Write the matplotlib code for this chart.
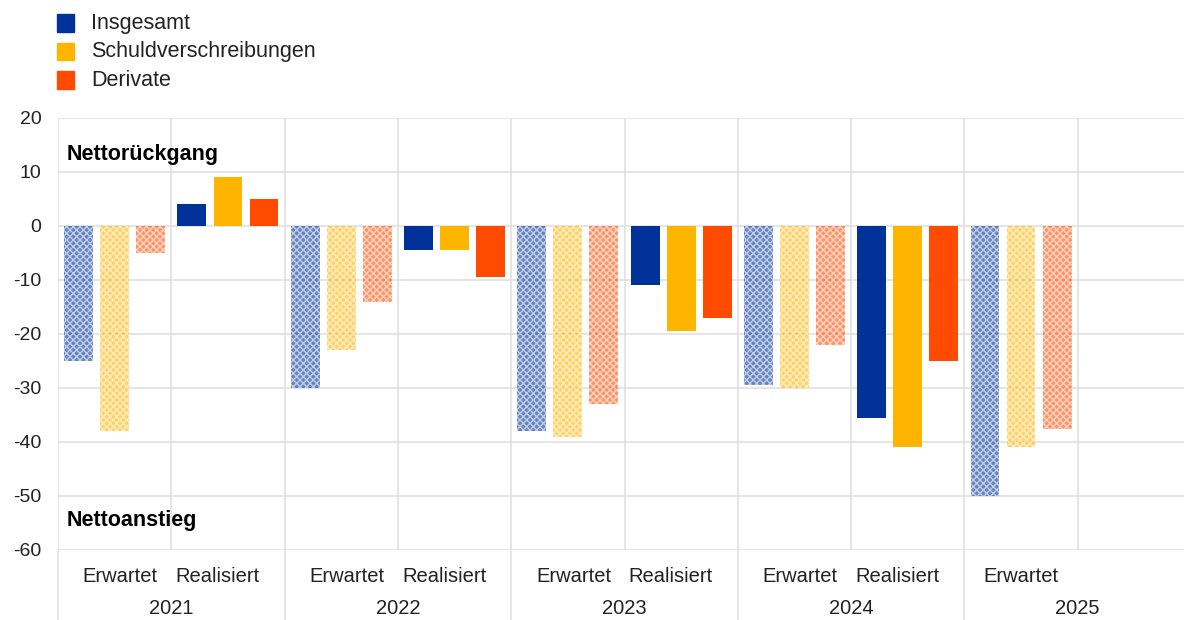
import matplotlib.pyplot as plt
import matplotlib.transforms as mtransforms
import numpy as np

plt.rcParams["font.family"] = ["Liberation Sans", "DejaVu Sans"]
plt.rcParams["axes.unicode_minus"] = False

# Categories: expected / realised per year
years = ["2021", "2022", "2023", "2024", "2025"]
slot_labels = ["Erwartet", "Realisiert"] * 4 + ["Erwartet"]
is_expected = [True, False] * 4 + [True]

series_names = ["Insgesamt", "Schuldverschreibungen", "Derivate"]
insgesamt = [-25, 4, -30, -4.5, -38, -11, -29.5, -35.5, -50]
schuldverschreibungen = [-38, 9, -23, -4.5, -39, -19.5, -30, -41, -41]
derivate = [-5, 5, -14, -9.5, -33, -17, -22, -25, -37.5]
series = [insgesamt, schuldverschreibungen, derivate]
colors = ["#003299", "#FFB400", "#FF4B00"]

W, H = 1184, 620
fig = plt.figure(figsize=(W / 100, H / 100), dpi=100)
ax = fig.add_axes([58 / W, (H - 550) / H, 1 - 58 / W, (550 - 118) / H])

n_slots = len(slot_labels)
x = np.arange(n_slots)
width = 0.255
offsets = [-0.318, 0.0, 0.318]

for vals, color, off in zip(series, colors, offsets):
    for xi, v, exp in zip(x, vals, is_expected):
        if exp:
            # expectations drawn as lighter, hatched bars
            ax.bar(xi + off, v, width, color=color, alpha=0.6,
                   edgecolor="white", hatch="xxxxx", linewidth=0, zorder=3)
        else:
            ax.bar(xi + off, v, width, color=color, linewidth=0, zorder=3)

ax.set_ylim(-60, 20)
ax.set_yticks(np.arange(-60, 21, 10))
ax.set_xlim(-0.5, -0.5 + (W - 58) / 113.3)
ax.set_xticks([])

grid_color = "#e0e0e0"
for yv in np.arange(-60, 21, 10):
    ax.axhline(yv, color=grid_color, lw=1.2, zorder=1)
for k in range(n_slots + 1):
    ax.axvline(k - 0.5, color=grid_color, lw=1.2, zorder=1)
for s in ax.spines.values():
    s.set_visible(False)
ax.tick_params(axis="y", length=0, labelsize=14, labelcolor="#222222", pad=12)

# Category and year labels below the plot
trans = mtransforms.blended_transform_factory(ax.transData, fig.transFigure)
label_shift = {"Erwartet": 0.05, "Realisiert": -0.09}
for xi, lab in zip(x, slot_labels):
    dx = label_shift[lab] if xi < n_slots - 1 else 0.0
    ax.text(xi + dx, (H - 577) / H, lab, transform=trans, ha="center",
            va="center", fontsize=14.5, color="#222222")
for i, yr in enumerate(years):
    ax.text(2 * i + 0.5, (H - 608) / H, yr, transform=trans, ha="center",
            va="center", fontsize=14.5, color="#222222")
    ax.plot([2 * i - 0.5, 2 * i - 0.5], [(H - 550) / H, 0], transform=trans,
            color=grid_color, lw=1.2, clip_on=False)

side = mtransforms.blended_transform_factory(ax.transAxes, ax.transData)
ax.text(0.008, 13.2, "Nettorückgang", fontsize=15.5, fontweight="bold",
        ha="left", va="center", transform=side)
ax.text(0.008, -54.5, "Nettoanstieg", fontsize=15.5, fontweight="bold",
        ha="left", va="center", transform=side)

# Legend
for i, (name, color) in enumerate(zip(series_names, colors)):
    yc = (H - (23 + 28.5 * i)) / H
    fig.patches.append(plt.Rectangle((57 / W, yc - 8.5 / H), 17 / W, 17 / H,
                                     transform=fig.transFigure, color=color))
    fig.text(91 / W, yc, name, fontsize=15.5, va="center", ha="left", color="#222222")

fig.savefig("out.png", dpi=100)
